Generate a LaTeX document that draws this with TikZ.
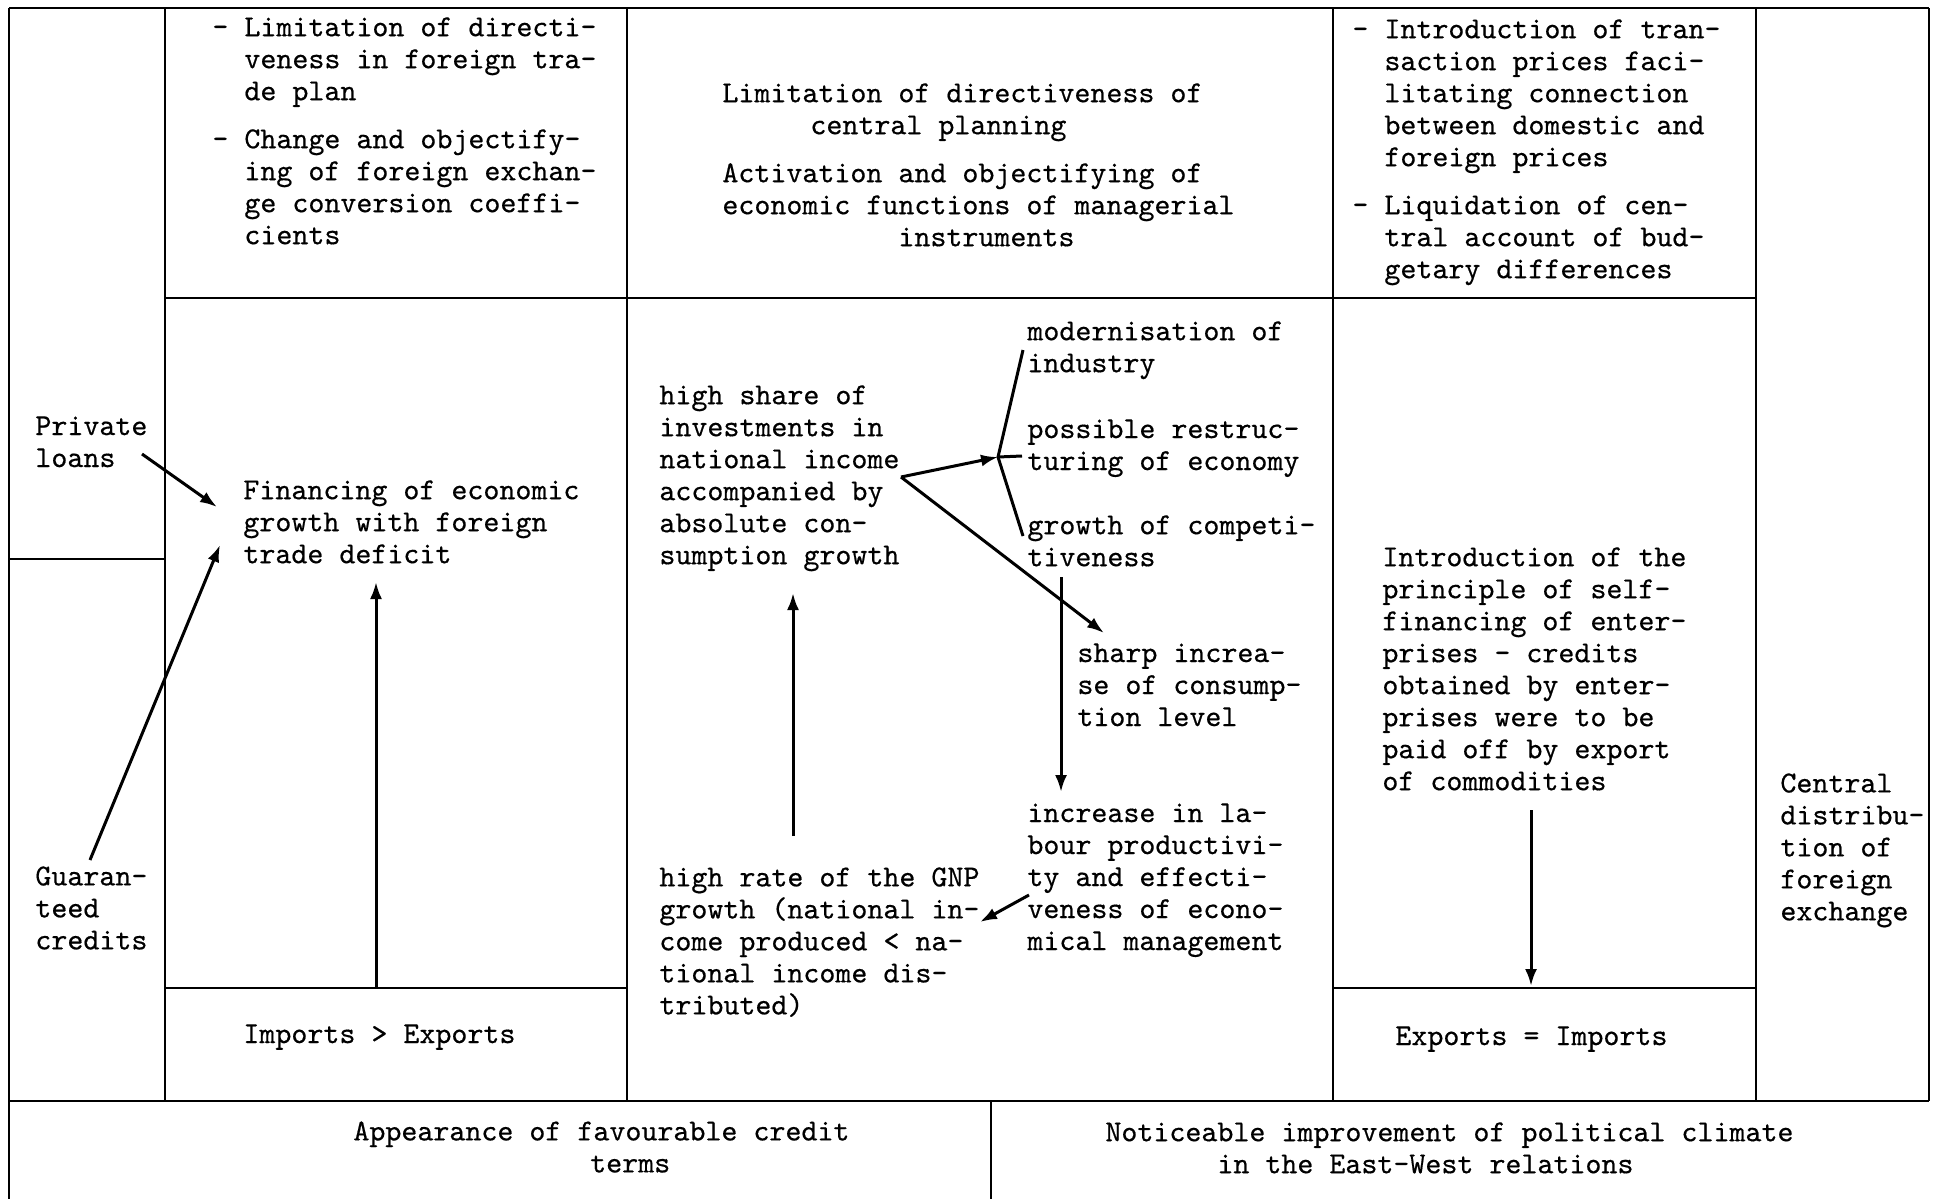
\documentclass[tikz,border=0pt]{standalone}
\usepackage{fontspec}
\setmonofont{lmmono10-regular.otf}[FakeBold=0.5]
\usetikzlibrary{arrows.meta}
\newcommand\chs[1]{\hspace*{\dimexpr #1pt*8\relax}}
\begin{document}
\begin{tikzpicture}[x=0.5pt,y=-0.5pt,
  frame/.style={line width=1.3pt},
  txt/.style={anchor=north west,inner sep=0pt,align=left,font=\fontsize{15.24}{16}\ttfamily},
  arr/.style={line width=1.5pt,-{Latex[length=8.5pt,width=6pt]}},
  ln/.style={line width=1.5pt}]
\useasboundingbox (0,0) rectangle (1936,1199);
% frame
\draw[frame] (9,8) -- (1929,8);
\draw[frame] (9,8) -- (9,1199);
\draw[frame] (1929,8) -- (1929,1101);
\draw[frame] (165,8) -- (165,1101);
\draw[frame] (627,8) -- (627,1101);
\draw[frame] (1333,8) -- (1333,1101);
\draw[frame] (1756,8) -- (1756,1101);
\draw[frame] (165,298) -- (1756,298);
\draw[frame] (9,559) -- (165,559);
\draw[frame] (165,988) -- (627,988);
\draw[frame] (1333,988) -- (1756,988);
\draw[frame] (9,1101) -- (1929,1101);
\draw[frame] (991,1101) -- (991,1199);
% texts
\node[txt] (tl) at (212,17) {- Limitation of directi-\\\hphantom{- }veness in foreign tra-\\\hphantom{- }de plan\\[8pt]- Change and objectify-\\\hphantom{- }ing of foreign exchan-\\\hphantom{- }ge conversion coeffi-\\\hphantom{- }cients};
\node[txt] (tm) at (722,83) {Limitation of directiveness of\\\chs{5.5}central planning\\[8pt]Activation and objectifying of\\economic functions of managerial\\\chs{11}instruments};
\node[txt] (tr) at (1352,19) {- Introduction of tran-\\\hphantom{- }saction prices faci-\\\hphantom{- }litating connection\\\hphantom{- }between domestic and\\\hphantom{- }foreign prices\\[8pt]- Liquidation of cen-\\\hphantom{- }tral account of bud-\\\hphantom{- }getary differences};
\node[txt] (pl) at (35,416) {Private\\loans};
\node[txt] (gc) at (35,866) {Guaran-\\teed\\credits};
\node[txt] (fin) at (243,480) {Financing of economic\\growth with foreign\\trade deficit};
\node[txt] (ie) at (243,1024) {Imports > Exports};
\node[txt] (hs) at (659,385) {high share of\\investments in\\national income\\accompanied by\\absolute con-\\sumption growth};
\node[txt] (mod) at (1027,321) {modernisation of\\industry};
\node[txt] (pos) at (1027,419) {possible restruc-\\turing of economy};
\node[txt] (comp) at (1027,515) {growth of competi-\\tiveness};
\node[txt] (sharp) at (1077,643) {sharp increa-\\se of consump-\\tion level};
\node[txt] (inc) at (1027,803) {increase in la-\\bour productivi-\\ty and effecti-\\veness of econo-\\mical management};
\node[txt] (gnp) at (659,867) {high rate of the GNP\\growth (national in-\\come produced < na-\\tional income dis-\\tributed)};
\node[txt] (self) at (1382,547) {Introduction of the\\principle of self-\\financing of enter-\\prises - credits\\obtained by enter-\\prises were to be\\paid off by export\\of commodities};
\node[txt] (ei) at (1395,1026) {Exports = Imports};
\node[txt] (cd) at (1780,773) {Central\\distribu-\\tion of\\foreign\\exchange};
\node[txt] (app) at (353,1121) {Appearance of favourable credit\\\chs{14.8}terms};
\node[txt] (pol) at (1105,1122) {Noticeable improvement of political climate\\\chs{7}in the East-West relations};
% arrow points
\coordinate (plS) at (142,454); \coordinate (plE) at (217,507);
\coordinate (gcS) at (90,860); \coordinate (gcE) at (220,545);
\coordinate (c2S) at (376,988); \coordinate (c2E) at (376,582);
\coordinate (mdS) at (793,836); \coordinate (mdE) at (793,593);
\coordinate (hsO) at (901,477);
\coordinate (bV) at (998,457); \coordinate (bT) at (1023,350);
\coordinate (bB) at (1023,536); \coordinate (bK) at (1022,456);
\coordinate (sdE) at (1104,633);
\coordinate (vdS) at (1061,577); \coordinate (vdE) at (1061,792);
\coordinate (ilS) at (1029,895); \coordinate (ilE) at (980,922);
\coordinate (rdS) at (1531,810); \coordinate (rdE) at (1531,986);
% arrows
\draw[arr] (plS) -- (plE);
\draw[arr] (gcS) -- (gcE);
\draw[arr] (c2S) -- (c2E);
\draw[arr] (mdS) -- (mdE);
\draw[arr] (hsO) -- (bV);
\draw[ln] (bT) -- (bV) -- (bB);
\draw[ln] (bV) -- (bK);
\draw[arr] (hsO) -- (sdE);
\draw[arr] (vdS) -- (vdE);
\draw[arr] (ilS) -- (ilE);
\draw[arr] (rdS) -- (rdE);
\end{tikzpicture}
\end{document}
